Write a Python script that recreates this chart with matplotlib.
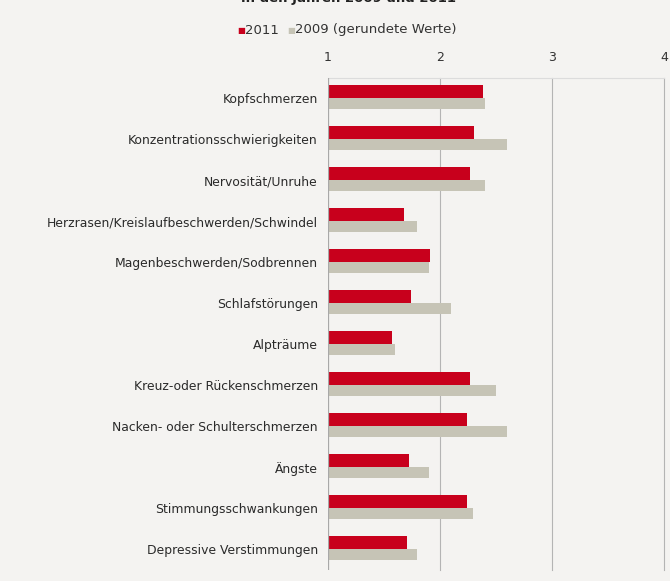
import matplotlib
matplotlib.use('Agg')

import matplotlib.pyplot as plt
import numpy as np

plt.rcParams['font.family'] = ['DejaVu Sans']

categories = [
    'Kopfschmerzen',
    'Konzentrationsschwierigkeiten',
    'Nervosität/Unruhe',
    'Herzrasen/Kreislaufbeschwerden/Schwindel',
    'Magenbeschwerden/Sodbrennen',
    'Schlafstörungen',
    'Alpträume',
    'Kreuz-oder Rückenschmerzen',
    'Nacken- oder Schulterschmerzen',
    'Ängste',
    'Stimmungsschwankungen',
    'Depressive Verstimmungen',
]
values_2011 = [2.39, 2.31, 2.27, 1.68, 1.91, 1.74, 1.57, 2.27, 2.24, 1.73, 2.24, 1.71]
values_2009 = [2.4, 2.6, 2.4, 1.8, 1.9, 2.1, 1.6, 2.5, 2.6, 1.9, 2.3, 1.8]
ticks = [1, 2, 3, 4]

red = '#c8001c'
grey = '#c6c4b6'
bg = '#f4f3f1'

fig = plt.figure(figsize=(6.7, 5.81), dpi=100, facecolor=bg)
ax = fig.add_axes([0.489, 0.019, 0.502, 0.847], facecolor=bg)

y = np.arange(len(categories))
base = 1
ax.barh(y, np.array(values_2009) - base, left=base, height=0.26, align='edge',
        color=grey, zorder=2)
ax.barh(y - 0.32, np.array(values_2011) - base, left=base, height=0.32, align='edge',
        color=red, zorder=3)

ax.set_xlim(1, 4)
ax.set_ylim(len(categories) - 0.5, -0.5)

for t in ticks[1:]:
    ax.axvline(t, color='#b4b4b4', lw=0.8, zorder=1, clip_on=False)
ax.axvline(1, color='#a8a8a8', lw=0.9, zorder=4)

for s in ['right', 'bottom', 'left']:
    ax.spines[s].set_visible(False)
ax.spines['top'].set_color('#dcdcdc')
ax.spines['top'].set_linewidth(0.8)

ax.xaxis.tick_top()
ax.set_xticks(ticks)
ax.set_xticklabels([str(t) for t in ticks], fontsize=9, color='#333333')
ax.tick_params(axis='x', length=0, pad=10)

ax.set_yticks(y)
ax.set_yticklabels(categories, fontsize=8.9, color='#2a2a2a')
ax.tick_params(axis='y', length=0, pad=7)

# legend row
ly = 1 - 30 / 581
fig.text(0.354, ly, '\u25a0', color=red, fontsize=6, ha='left', va='center')
fig.text(0.366, ly, '2011', color='#333333', fontsize=9.5, ha='left', va='center')
fig.text(0.428, ly, '\u25a0', color=grey, fontsize=6, ha='left', va='center')
fig.text(0.440, ly, '2009 (gerundete Werte)', color='#333333', fontsize=9.5,
         ha='left', va='center')

# title, cut at the upper edge
fig.text(0.52, 1.003, 'in den Jahren 2009 und 2011', color='#222222', fontsize=9.5,
         fontweight='bold', ha='center', va='center')

fig.savefig('out.png', dpi=100, facecolor=bg)
